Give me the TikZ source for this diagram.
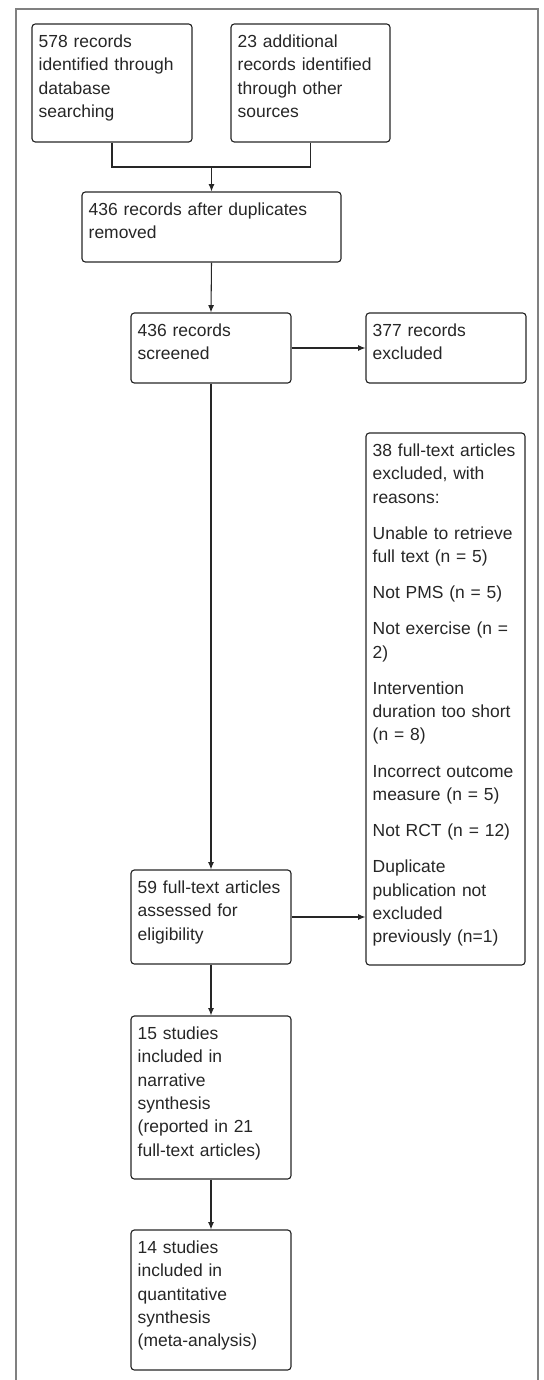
\documentclass[tikz,border=0pt]{standalone}
\usepackage{fontspec}
\setmainfont{Liberation Sans}
\usetikzlibrary{fit,arrows.meta}
\definecolor{frm}{HTML}{808080}
\definecolor{ln}{HTML}{262626}
\begin{document}
\begin{tikzpicture}[x=0.75pt,y=-0.75pt,
  box/.style={draw=ln,line width=0.85pt,rounded corners=2.5pt,inner sep=0pt},
  txt/.style={anchor=base west,inner sep=0pt,text width=122pt,align=left,text=ln,
    font=\fontsize{13.1pt}{17.5pt}\selectfont},
  arr/.style={draw=ln,line width=0.8pt,-{Latex[length=5.5pt,width=4.5pt]}},
  con/.style={draw=ln,line width=0.8pt}]
\useasboundingbox (0,0) rectangle (543,1380);
\draw[frm,line width=0.9pt] (16,1381) -- (16,9) -- (538,9) -- (538,1381);
% boxes
\node[box,fit={(32,24) (192,142)}] (b1) {};
\node[box,fit={(231,24) (390,142)}] (b2) {};
\node[box,fit={(82,192) (341,262)}] (b3) {};
\node[box,fit={(131,313) (291,383)}] (b4) {};
\node[box,fit={(366,313) (526,383)}] (b5) {};
\node[box,fit={(131,870) (291,964)}] (b6) {};
\node[box,fit={(366,433) (525,965)}] (b7) {};
\node[box,fit={(131,1016) (291,1179)}] (b8) {};
\node[box,fit={(131,1230) (291,1370)}] (b9) {};
% texts
\node[txt] (t1) at ([shift={(7,24)}]b1.north west) {578 records\\identified through\\database\\searching};
\node[txt] (t2) at ([shift={(7,24)}]b2.north west) {23 additional\\records identified\\through other\\sources};
\node[txt,text width=185pt] (t3) at ([shift={(7,24)}]b3.north west) {436 records after duplicates\\removed};
\node[txt] (t4) at ([shift={(7,24)}]b4.north west) {436 records\\screened};
\node[txt] (t5) at ([shift={(7,24)}]b5.north west) {377 records\\excluded};
\node[txt] (t6) at ([shift={(7,24)}]b6.north west) {59 full-text articles\\assessed for\\eligibility};
\node[txt] (t7) at ([shift={(7,24)}]b7.north west) {38 full-text articles\\excluded, with\\reasons:\\[9.6pt]
Unable to retrieve\\full text (n = 5)\\[9.6pt]
Not PMS (n = 5)\\[9.6pt]
Not exercise (n =\\2)\\[9.6pt]
Intervention\\duration too short\\(n = 8)\\[9.6pt]
Incorrect outcome\\measure (n = 5)\\[9.6pt]
Not RCT (n = 12)\\[9.6pt]
Duplicate\\publication not\\excluded\\previously (n=1)};
\node[txt] (t8) at ([shift={(7,24)}]b8.north west) {15 studies\\included in\\narrative\\synthesis\\(reported in 21\\full-text articles)};
\node[txt] (t9) at ([shift={(7,24)}]b9.north west) {14 studies\\included in\\quantitative\\synthesis\\(meta-analysis)};
% connectors
\coordinate (j) at (211.5,167);
\draw[con] (b1.south) |- (j);
\draw[con] (b2.south) |- (j);
\draw[arr] (j) -- (b3.north);
\draw[arr] (b3.south) -- (b4.north);
\draw[arr] (b4.east) -- (b5.west);
\draw[arr] (b4.south) -- (b6.north);
\draw[arr] (b6.east) -- (b6.east -| b7.west);
\draw[arr] (b6.south) -- (b8.north);
\draw[arr] (b8.south) -- (b9.north);
\end{tikzpicture}
\end{document}
